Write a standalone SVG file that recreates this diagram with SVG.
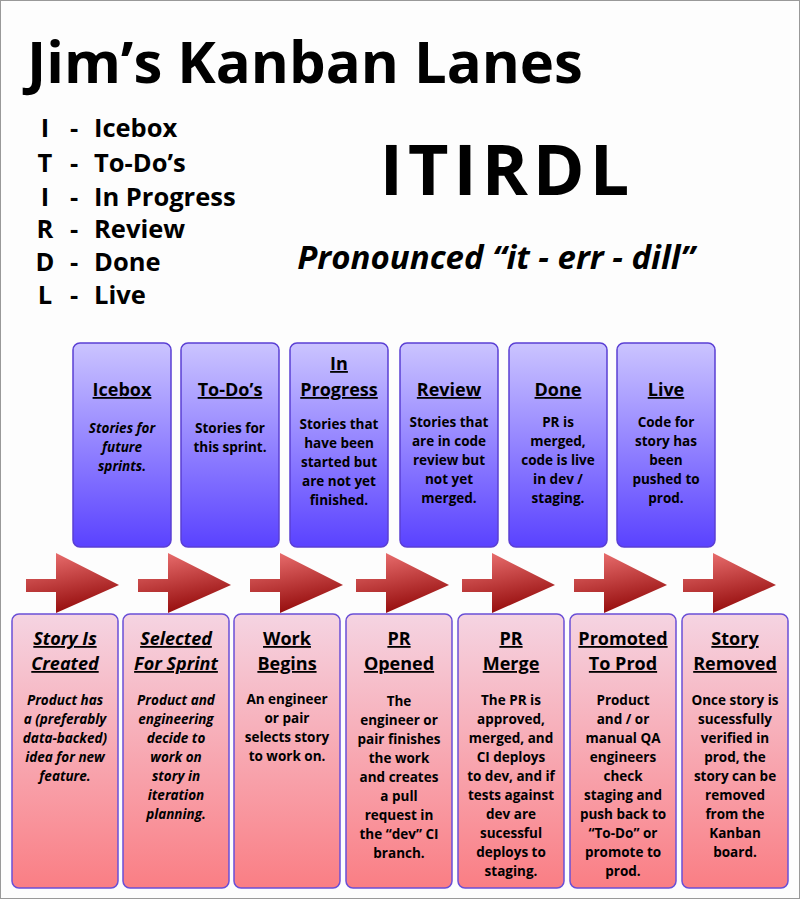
<svg xmlns="http://www.w3.org/2000/svg" width="800" height="900" viewBox="0 0 800 900">
<defs>
<linearGradient id="gPurple" x1="0" y1="0" x2="0" y2="1">
<stop offset="0" stop-color="#cbc4ff"/>
<stop offset="1" stop-color="#5a42ff"/>
</linearGradient>
<linearGradient id="gPink" x1="0" y1="0" x2="0" y2="1">
<stop offset="0" stop-color="#f5d4e2"/>
<stop offset="1" stop-color="#fa7e84"/>
</linearGradient>
<linearGradient id="gArrow" x1="0" y1="0" x2="0.3" y2="1">
<stop offset="0" stop-color="#ef7575"/>
<stop offset="1" stop-color="#981010"/>
</linearGradient>
<path id="arrow" d="M0,26 H30 V0 L93,32 L30,60 V39 H0 Z"/>
</defs>
<style>
text{font-family:"Open Sans","Lato","DejaVu Sans",sans-serif;font-weight:700;fill:#000}
.title{font-size:58px}
.leg{font-size:25.5px}
.big{font-size:70px;letter-spacing:5px}
.pron{font-size:33px;font-style:italic}
.hd{font-size:18px;text-decoration:underline;text-anchor:middle}
.bd{font-size:13.5px;text-anchor:middle}
.it{font-style:italic}
.pbox{fill:url(#gPurple);stroke:#5a3fd4;stroke-width:1.5}
.rbox{fill:url(#gPink);stroke:#6a4fd6;stroke-width:1.5}
.arr{fill:url(#gArrow)}
</style>
<rect x="0.5" y="0.5" width="799" height="898" fill="#fdfdfd" stroke="#999" stroke-width="1"/>

<g id="header">
<text class="title" x="27" y="83">Jim’s Kanban Lanes</text>
<g class="leg">
<text x="45" y="137" text-anchor="middle">I</text><text x="70" y="137">-</text><text x="94" y="137">Icebox</text>
<text x="45" y="172" text-anchor="middle">T</text><text x="70" y="172">-</text><text x="94" y="172">To-Do’s</text>
<text x="45" y="206" text-anchor="middle">I</text><text x="70" y="206">-</text><text x="94" y="206">In Progress</text>
<text x="45" y="238" text-anchor="middle">R</text><text x="70" y="238">-</text><text x="94" y="238">Review</text>
<text x="45" y="271" text-anchor="middle">D</text><text x="70" y="271">-</text><text x="94" y="271">Done</text>
<text x="45" y="304" text-anchor="middle">L</text><text x="70" y="304">-</text><text x="94" y="304">Live</text>
</g>
<text class="big" x="507" y="195" text-anchor="middle">ITIRDL</text>
<text class="pron" x="496" y="269" text-anchor="middle">Pronounced “it - err - dill”</text>
</g>

<g id="lane-icebox">
<rect class="pbox" x="73" y="343" width="98" height="204" rx="7"/>
<text class="hd" x="122" y="396">Icebox</text>
<text class="bd it" x="122" y="433"><tspan x="122">Stories for</tspan><tspan x="122" dy="19">future</tspan><tspan x="122" dy="19">sprints.</tspan></text>
</g>
<g id="lane-todo">
<rect class="pbox" x="181" y="343" width="98" height="204" rx="7"/>
<text class="hd" x="230" y="396">To-Do’s</text>
<text class="bd" x="230" y="433"><tspan x="230">Stories for</tspan><tspan x="230" dy="19">this sprint.</tspan></text>
</g>
<g id="lane-inprogress">
<rect class="pbox" x="290" y="343" width="98" height="204" rx="7"/>
<text class="hd" x="339" y="370"><tspan x="339">In</tspan><tspan x="339" dy="26">Progress</tspan></text>
<text class="bd" x="339" y="429"><tspan x="339">Stories that</tspan><tspan x="339" dy="19">have been</tspan><tspan x="339" dy="19">started but</tspan><tspan x="339" dy="19">are not yet</tspan><tspan x="339" dy="19">finished.</tspan></text>
</g>
<g id="lane-review">
<rect class="pbox" x="400" y="343" width="98" height="204" rx="7"/>
<text class="hd" x="449" y="396">Review</text>
<text class="bd" x="449" y="427"><tspan x="449">Stories that</tspan><tspan x="449" dy="19">are in code</tspan><tspan x="449" dy="19">review but</tspan><tspan x="449" dy="19">not yet</tspan><tspan x="449" dy="19">merged.</tspan></text>
</g>
<g id="lane-done">
<rect class="pbox" x="509" y="343" width="98" height="204" rx="7"/>
<text class="hd" x="558" y="396">Done</text>
<text class="bd" x="558" y="427"><tspan x="558">PR is</tspan><tspan x="558" dy="19">merged,</tspan><tspan x="558" dy="19">code is live</tspan><tspan x="558" dy="19">in dev /</tspan><tspan x="558" dy="19">staging.</tspan></text>
</g>
<g id="lane-live">
<rect class="pbox" x="617" y="343" width="98" height="204" rx="7"/>
<text class="hd" x="666" y="396">Live</text>
<text class="bd" x="666" y="427"><tspan x="666">Code for</tspan><tspan x="666" dy="19">story has</tspan><tspan x="666" dy="19">been</tspan><tspan x="666" dy="19">pushed to</tspan><tspan x="666" dy="19">prod.</tspan></text>
</g>

<g id="arrows" class="arr">
<use href="#arrow" x="26" y="553"/>
<use href="#arrow" x="138" y="553"/>
<use href="#arrow" x="250" y="553"/>
<use href="#arrow" x="356" y="553"/>
<use href="#arrow" x="462" y="553"/>
<use href="#arrow" x="574" y="553"/>
<use href="#arrow" x="683" y="553"/>
</g>

<g id="event-created">
<rect class="rbox" x="12" y="614" width="106" height="274" rx="7"/>
<text class="hd it" x="65" y="645"><tspan x="65">Story Is</tspan><tspan x="65" dy="25">Created</tspan></text>
<text class="bd it" x="65" y="705"><tspan x="65">Product has</tspan><tspan x="65" dy="19">a (preferably</tspan><tspan x="65" dy="19">data-backed)</tspan><tspan x="65" dy="19">idea for new</tspan><tspan x="65" dy="19">feature.</tspan></text>
</g>
<g id="event-selected">
<rect class="rbox" x="123" y="614" width="106" height="274" rx="7"/>
<text class="hd it" x="176" y="645"><tspan x="176">Selected</tspan><tspan x="176" dy="25">For Sprint</tspan></text>
<text class="bd it" x="176" y="705"><tspan x="176">Product and</tspan><tspan x="176" dy="19">engineering</tspan><tspan x="176" dy="19">decide to</tspan><tspan x="176" dy="19">work on</tspan><tspan x="176" dy="19">story in</tspan><tspan x="176" dy="19">iteration</tspan><tspan x="176" dy="19">planning.</tspan></text>
</g>
<g id="event-work">
<rect class="rbox" x="234" y="614" width="106" height="274" rx="7"/>
<text class="hd" x="287" y="645"><tspan x="287">Work</tspan><tspan x="287" dy="25">Begins</tspan></text>
<text class="bd" x="287" y="704"><tspan x="287">An engineer</tspan><tspan x="287" dy="19">or pair</tspan><tspan x="287" dy="19">selects story</tspan><tspan x="287" dy="19">to work on.</tspan></text>
</g>
<g id="event-propened">
<rect class="rbox" x="346" y="614" width="106" height="274" rx="7"/>
<text class="hd" x="399" y="645"><tspan x="399">PR</tspan><tspan x="399" dy="25">Opened</tspan></text>
<text class="bd" x="399" y="706"><tspan x="399">The</tspan><tspan x="399" dy="19">engineer or</tspan><tspan x="399" dy="19">pair finishes</tspan><tspan x="399" dy="19">the work</tspan><tspan x="399" dy="19">and creates</tspan><tspan x="399" dy="19">a pull</tspan><tspan x="399" dy="19">request in</tspan><tspan x="399" dy="19">the “dev” CI</tspan><tspan x="399" dy="19">branch.</tspan></text>
</g>
<g id="event-prmerge">
<rect class="rbox" x="458" y="614" width="106" height="274" rx="7"/>
<text class="hd" x="511" y="645"><tspan x="511">PR</tspan><tspan x="511" dy="25">Merge</tspan></text>
<text class="bd" x="511" y="705"><tspan x="511">The PR is</tspan><tspan x="511" dy="19">approved,</tspan><tspan x="511" dy="19">merged, and</tspan><tspan x="511" dy="19">CI deploys</tspan><tspan x="511" dy="19">to dev, and if</tspan><tspan x="511" dy="19">tests against</tspan><tspan x="511" dy="19">dev are</tspan><tspan x="511" dy="19">sucessful</tspan><tspan x="511" dy="19">deploys to</tspan><tspan x="511" dy="19">staging.</tspan></text>
</g>
<g id="event-promoted">
<rect class="rbox" x="570" y="614" width="106" height="274" rx="7"/>
<text class="hd" x="623" y="645"><tspan x="623">Promoted</tspan><tspan x="623" dy="25">To Prod</tspan></text>
<text class="bd" x="623" y="705"><tspan x="623">Product</tspan><tspan x="623" dy="19">and / or</tspan><tspan x="623" dy="19">manual QA</tspan><tspan x="623" dy="19">engineers</tspan><tspan x="623" dy="19">check</tspan><tspan x="623" dy="19">staging and</tspan><tspan x="623" dy="19">push back to</tspan><tspan x="623" dy="19">“To-Do” or</tspan><tspan x="623" dy="19">promote to</tspan><tspan x="623" dy="19">prod.</tspan></text>
</g>
<g id="event-removed">
<rect class="rbox" x="682" y="614" width="106" height="274" rx="7"/>
<text class="hd" x="735" y="645"><tspan x="735">Story</tspan><tspan x="735" dy="25">Removed</tspan></text>
<text class="bd" x="735" y="705"><tspan x="735">Once story is</tspan><tspan x="735" dy="19">sucessfully</tspan><tspan x="735" dy="19">verified in</tspan><tspan x="735" dy="19">prod, the</tspan><tspan x="735" dy="19">story can be</tspan><tspan x="735" dy="19">removed</tspan><tspan x="735" dy="19">from the</tspan><tspan x="735" dy="19">Kanban</tspan><tspan x="735" dy="19">board.</tspan></text>
</g>
</svg>
